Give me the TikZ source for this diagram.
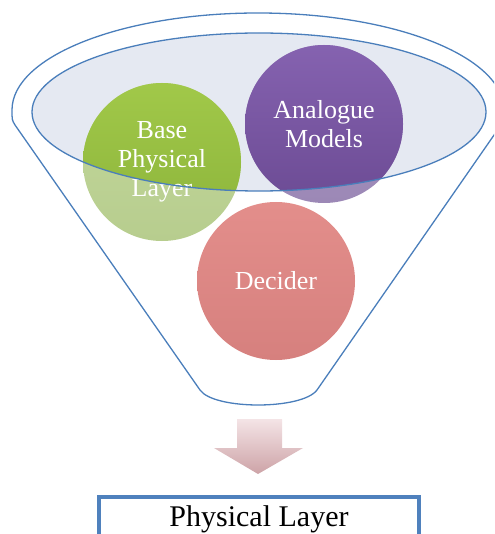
\documentclass[tikz,border=0pt]{standalone}
\usepackage{fontspec}
\setmainfont{Liberation Serif}
\usetikzlibrary{calc}
\definecolor{funnelblue}{HTML}{4A7EBB}
\definecolor{glassfill}{HTML}{E5E9F2}
\definecolor{boxblue}{HTML}{4F81BD}
\definecolor{greentop}{HTML}{A8CF4E}
\definecolor{greenbot}{HTML}{8BB33A}
\definecolor{greenpaletop}{HTML}{C3D89C}
\definecolor{greenpalebot}{HTML}{B7CD8E}
\definecolor{purpletop}{HTML}{8764B2}
\definecolor{purplebot}{HTML}{6C4B94}
\definecolor{purplepaletop}{HTML}{A996C2}
\definecolor{purplepalebot}{HTML}{9C88B6}
\definecolor{redtop}{HTML}{E38E8B}
\definecolor{redbot}{HTML}{D6807E}
\definecolor{arrowtop}{HTML}{F4E4E6}
\definecolor{arrowbot}{HTML}{CDA3A7}

\begin{document}
\begin{tikzpicture}[x=1pt,y=-1pt]
  \tikzstyle{rim}=[draw=funnelblue,line width=1.3pt]
  \tikzstyle{bubble}=[circle,minimum size=158pt,inner sep=0pt,align=center,text=white,font=\fontsize{26}{29}\selectfont]
  \useasboundingbox (0,0) rectangle (494,534);
  \clip (0,0) rectangle (494,534);

  \draw[rim] (15,125) .. controls (12,120) .. (12,110) arc[start angle=180,end angle=360,x radius=246,y radius=97] .. controls (504,120) .. (501,125) -- (317,390) .. controls (302,410) and (214,410) .. (200,390) -- cycle;
  \fill[glassfill] (259,112) ellipse [x radius=227,y radius=79];

  \node[bubble,top color=greenpaletop,bottom color=greenpalebot,path picture={\shade[top color=greentop,bottom color=greenbot] ($(path picture bounding box.center)+(97,-50)$) ellipse [x radius=227,y radius=79];}] (base) at (162,162) {Base\\Physical\\Layer};
  \node[bubble,top color=purplepaletop,bottom color=purplepalebot,path picture={\shade[top color=purpletop,bottom color=purplebot] ($(path picture bounding box.center)+(-65,-12)$) ellipse [x radius=227,y radius=79];}] (analogue) at (324,124) {Analogue\\Models};
  \draw[rim] (259,112) ellipse [x radius=227,y radius=79];
  \node[bubble,top color=redtop,bottom color=redbot] (decider) at (276,281) {Decider};

  \shade[top color=arrowtop,bottom color=arrowbot] (237,419) -- (282,419) -- (282,448) -- (303,448) -- (258,474) -- (214,448) -- (237,448) -- cycle;

  \node[draw=boxblue,line width=3.5pt,anchor=north,minimum width=320pt,text height=20pt,text depth=30pt,inner ysep=10pt,font=\fontsize{30}{34}\selectfont] (phys) at (259,495) {Physical Layer};
\end{tikzpicture}
\end{document}
